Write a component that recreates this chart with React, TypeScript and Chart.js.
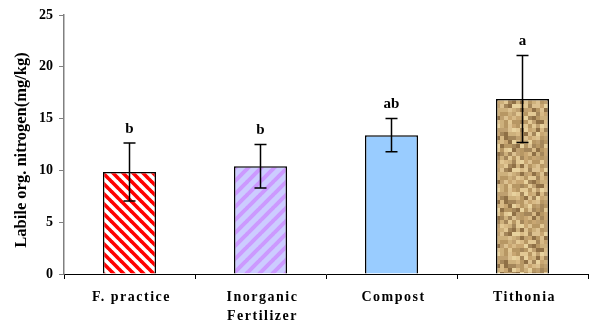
import React, { useEffect, useRef } from "react";
import { Chart, registerables } from "chart.js";

Chart.register(...registerables);

const categories: string[][] = [["F. practice"], ["Inorganic", "Fertilizer"], ["Compost"], ["Tithonia"]];
const means: number[] = [9.85, 10.4, 13.4, 16.9];
const errors: number[] = [2.8, 2.1, 1.6, 4.2];
const letters: string[] = ["b", "b", "ab", "a"];
const yTicks: number[] = [0, 5, 10, 15, 20, 25];

const SERIF = "'Liberation Serif', 'Times New Roman', serif";

function stripePattern(p: number, w: number, bg: string, fg: string, dir: "back" | "fwd"): CanvasPattern | string {
  const c = document.createElement("canvas");
  c.width = p;
  c.height = p;
  const ctx = c.getContext("2d");
  if (!ctx) return bg;
  ctx.fillStyle = bg;
  ctx.fillRect(0, 0, p, p);
  ctx.strokeStyle = fg;
  ctx.lineWidth = w;
  for (let k = -1; k <= 1; k++) {
    ctx.beginPath();
    if (dir === "back") {
      ctx.moveTo(k * p - 1, -1);
      ctx.lineTo(k * p + p + 1, p + 1);
    } else {
      ctx.moveTo(k * p - 1, p + 1);
      ctx.lineTo(k * p + p + 1, -1);
    }
    ctx.stroke();
  }
  return ctx.createPattern(c, "repeat") || bg;
}

function fmix(x: number): number {
  let h = x >>> 0;
  h ^= h >>> 16;
  h = Math.imul(h, 0x85ebca6b) >>> 0;
  h ^= h >>> 13;
  h = Math.imul(h, 0xc2b2ae35) >>> 0;
  h ^= h >>> 16;
  return h >>> 0;
}

function texturePattern(): CanvasPattern | string {
  const palette = ["#c8a672", "#d8ba86", "#a4865a", "#e8d29e", "#b79764", "#cdb07c", "#8f7046", "#dcc190", "#bfa070", "#e2c894"];
  const n = 16;
  const s = 4;
  const c = document.createElement("canvas");
  c.width = n * s;
  c.height = n * s;
  const ctx = c.getContext("2d");
  if (!ctx) return "#c9a974";
  for (let i = 0; i < n; i++) {
    for (let j = 0; j < n; j++) {
      const h = fmix(fmix(i * 131 + 17) ^ (j * 2654435761));
      ctx.fillStyle = palette[(h >>> 7) % palette.length];
      ctx.fillRect(i * s, j * s, s, s);
    }
  }
  return ctx.createPattern(c, "repeat") || "#c9a974";
}

export default function App() {
  const ref = useRef<HTMLCanvasElement | null>(null);

  useEffect(() => {
    if (!ref.current) return;
    const fills = [
      stripePattern(10, 3.6, "#ffffff", "#ff0000", "back"),
      stripePattern(13, 4, "#ccccff", "#cc99ff", "fwd"),
      "#99ccff",
      texturePattern(),
    ];

    const overlay = {
      id: "overlay",
      afterDatasetsDraw(chart: any) {
        const ctx = chart.ctx;
        const ys = chart.scales.y;
        const meta = chart.getDatasetMeta(0);
        ctx.save();
        ctx.strokeStyle = "#000";
        ctx.lineWidth = 1.5;
        meta.data.forEach((el: any, i: number) => {
          const x = el.x;
          const t = ys.getPixelForValue(means[i] + errors[i]);
          const b = ys.getPixelForValue(means[i] - errors[i]);
          ctx.beginPath();
          ctx.moveTo(x, t);
          ctx.lineTo(x, b);
          ctx.moveTo(x - 6, t);
          ctx.lineTo(x + 6, t);
          ctx.moveTo(x - 6, b);
          ctx.lineTo(x + 6, b);
          ctx.stroke();
          ctx.fillStyle = "#000";
          ctx.font = "bold 15px " + SERIF;
          ctx.textAlign = "center";
          ctx.textBaseline = "middle";
          ctx.fillText(letters[i], x, t - 14);
        });
        ctx.restore();
      },
      afterDraw(chart: any) {
        const ctx = chart.ctx;
        const xs = chart.scales.x;
        ctx.save();
        ctx.fillStyle = "#000";
        ctx.font = "bold 14px " + SERIF;
        ctx.textAlign = "center";
        ctx.textBaseline = "middle";
        (ctx as any).letterSpacing = "1.5px";
        categories.forEach((lines, i) => {
          const x = xs.getPixelForValue(i);
          lines.forEach((ln, k) => ctx.fillText(ln, x + 2, 297 + k * 19));
        });
        (ctx as any).letterSpacing = "0px";
        ctx.translate(22, 150);
        ctx.rotate(-Math.PI / 2);
        ctx.font = "bold 16.5px " + SERIF;
        ctx.fillText("Labile org. nitrogen(mg/kg)", 0, 0);
        ctx.restore();
      },
    };

    const chart = new Chart(ref.current, {
      type: "bar",
      data: {
        labels: categories.map((c) => c.join(" ")),
        datasets: [
          {
            data: means,
            backgroundColor: fills as any,
            borderColor: "#000",
            borderWidth: 1.5,
            barPercentage: 0.405,
            categoryPercentage: 1,
          },
        ],
      },
      options: {
        responsive: false,
        animation: false,
        devicePixelRatio: 1,
        layout: { padding: { top: 15, right: 9, left: 0, bottom: 0 } },
        plugins: { legend: { display: false }, tooltip: { enabled: false }, title: { display: false } },
        scales: {
          x: {
            offset: true,
            grid: { display: true, offset: true, drawOnChartArea: false, drawTicks: true, tickLength: 5, color: "#000" },
            border: { display: true, color: "#000", width: 1 },
            ticks: { display: false },
            afterFit: (s: any) => {
              s.height = 55;
            },
          },
          y: {
            min: 0,
            max: 25,
            afterBuildTicks: (s: any) => {
              s.ticks = yTicks.map((v) => ({ value: v }));
            },
            grid: { display: true, drawOnChartArea: false, drawTicks: true, tickLength: 5, color: "#808080" },
            border: { display: true, color: "#808080", width: 1.5 },
            ticks: {
              color: "#000",
              padding: 6,
              font: { family: SERIF, size: 14, weight: "bold" },
            },
            afterFit: (s: any) => {
              s.width = 64;
            },
          },
        },
      },
      plugins: [overlay],
    });
    return () => chart.destroy();
  }, []);

  return (
    <div style={{ position: "fixed", left: 0, top: 0, width: 597, height: 329, background: "#fff" }}>
      <canvas ref={ref} width={597} height={329} style={{ display: "block" }} />
    </div>
  );
}
